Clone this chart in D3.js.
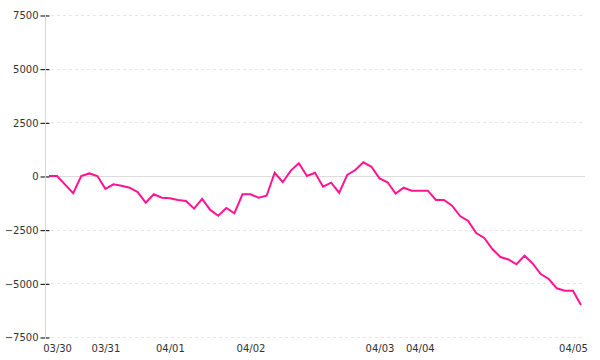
<!DOCTYPE html>
<html>
<head>
<meta charset="utf-8">
<script src="https://cdn.jsdelivr.net/npm/d3@7"></script>
<style>
  body { margin: 0; background: #fff; }
  #chart { width: 600px; height: 360px; }
  .axis text { font-family: "DejaVu Sans", Verdana, sans-serif; font-size: 10px; fill: #333; }
  .grid line { stroke: #e6e6e6; stroke-dasharray: 3,3; }
</style>
</head>
<body>
<div id="chart"></div>
<script>
// one value per sample
const values = [
  0, 0, -400, -800, 0, 120, 0, -600, -390, -450,
  -545, -750, -1240, -850, -1010, -1040, -1120, -1165, -1520, -1070,
  -1580, -1850, -1490, -1740, -850, -850, -1010, -920, 150, -290,
  250, 590, 0, 150, -500, -310, -780, 50, 280, 640,
  430, -110, -290, -820, -545, -685, -685, -685, -1118, -1118,
  -1383, -1863, -2096, -2655, -2888, -3400, -3773, -3890, -4113, -3712,
  -4076, -4565, -4798, -5231, -5343, -5343, -6009
];
// first sample of each day gets a label
const dayIndex = [1, 7, 15, 25, 41, 46, 65];
const dayLabels = ['03/30', '03/31', '04/01', '04/02', '04/03', '04/04', '04/05'];
const yTicks = [-7500, -5000, -2500, 0, 2500, 5000, 7500];

const width = 600, height = 360;
const margin = { top: 15, right: 15, bottom: 23, left: 45 };

const svg = d3.select('#chart').append('svg')
  .attr('width', width)
  .attr('height', height);

const x = d3.scalePoint()
  .domain(values.map((d, i) => i))
  .range([49, 581]);

const y = d3.scaleLinear()
  .domain([-7500, 7500])
  .range([height - margin.bottom, margin.top]);

// dashed grid
svg.append('g')
  .attr('class', 'grid')
  .selectAll('line')
  .data(yTicks.filter(d => d !== 0))
  .enter().append('line')
  .attr('x1', margin.left)
  .attr('x2', width - margin.right)
  .attr('y1', d => Math.round(y(d)) + 0.5)
  .attr('y2', d => Math.round(y(d)) + 0.5);

// zero line
svg.append('line')
  .attr('x1', margin.left)
  .attr('x2', width - margin.right)
  .attr('y1', Math.round(y(0)) + 0.5)
  .attr('y2', Math.round(y(0)) + 0.5)
  .attr('stroke', '#dcdcdc');

// y axis
const yAxis = svg.append('g')
  .attr('class', 'axis axis-y')
  .attr('transform', `translate(${margin.left + 0.5}, 0.5)`)
  .call(d3.axisLeft(y).tickValues(yTicks).tickFormat(d3.format('d')).tickSize(5).tickPadding(2));
yAxis.select('.domain').remove();
yAxis.selectAll('.tick line').attr('x2', 4).attr('x1', -5).attr('stroke', '#000');
svg.append('line')
  .attr('x1', margin.left + 0.5).attr('x2', margin.left + 0.5)
  .attr('y1', y(7500)).attr('y2', y(-7500) + 2)
  .attr('stroke', '#d8d8d8');

// x axis labels only
const xAxis = svg.append('g')
  .attr('class', 'axis axis-x')
  .attr('transform', `translate(0, ${height - margin.bottom})`)
  .call(d3.axisBottom(x)
    .tickValues(dayIndex)
    .tickSize(0)
    .tickPadding(8)
    .tickFormat((d, i) => dayLabels[i]));
xAxis.select('.domain').remove();

// series line
svg.append('path')
  .datum(values)
  .attr('fill', 'none')
  .attr('stroke', '#ff1493')
  .attr('stroke-width', 2)
  .attr('d', d3.line()
    .x((d, i) => x(i))
    .y(d => y(d)));
</script>
</body>
</html>
